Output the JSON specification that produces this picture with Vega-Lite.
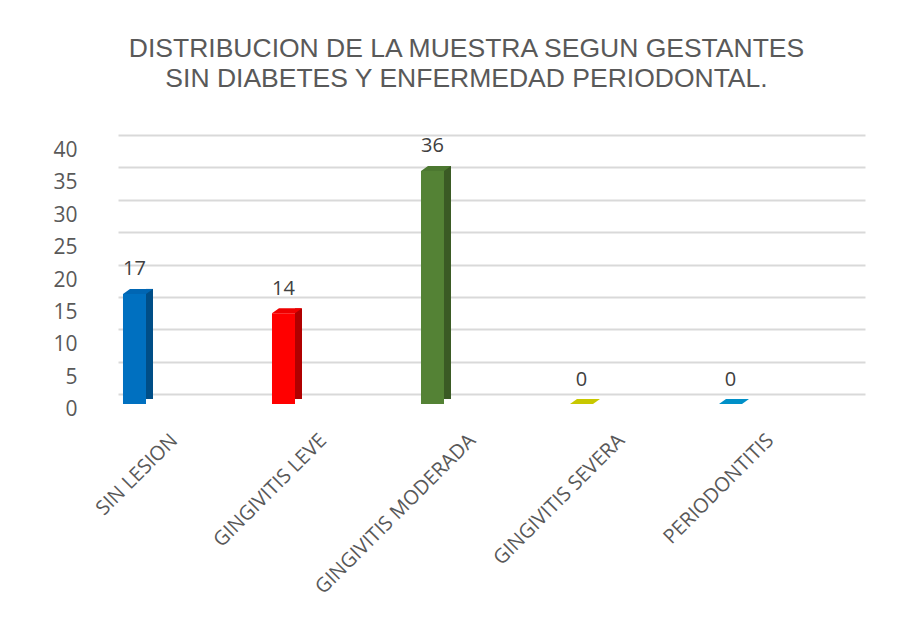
{
  "$schema": "https://vega.github.io/schema/vega-lite/v6.json",
  "width": 747,
  "height": 259,
  "autosize": {"type": "none"},
  "padding": {"left": 118, "top": 135, "right": 48, "bottom": 227},
  "background": "white",
  "config": {"view": {"stroke": null}, "font": "Open Sans"},
  "title": {
    "text": ["DISTRIBUCION DE LA MUESTRA SEGUN GESTANTES", "SIN DIABETES Y ENFERMEDAD PERIODONTAL."],
    "font": "Liberation Sans",
    "fontSize": 26.5,
    "fontWeight": "normal",
    "color": "#595959",
    "anchor": "middle",
    "frame": "group",
    "dx": -25,
    "baseline": "bottom",
    "offset": 16,
    "lineHeight": 30
  },
  "data": {
    "values": [
      {"cat": "SIN LESION", "value": 17},
      {"cat": "GINGIVITIS LEVE", "value": 14},
      {"cat": "GINGIVITIS MODERADA", "value": 36},
      {"cat": "GINGIVITIS SEVERA", "value": 0},
      {"cat": "PERIODONTITIS", "value": 0}
    ]
  },
  "encoding": {
    "x": {
      "field": "cat",
      "type": "nominal",
      "sort": null,
      "scale": {"type": "band", "paddingInner": 0.8456, "paddingOuter": 0.4295, "align": 0.039},
      "axis": {
        "title": null,
        "domain": false,
        "ticks": false,
        "grid": false,
        "labelAngle": -45,
        "labelAlign": "right",
        "labelBaseline": "middle",
        "labelOffset": 40,
        "labelPadding": 43,
        "labelFont": "Open Sans",
        "labelFontSize": 20,
        "labelColor": "#595959",
        "labelLimit": 400
      }
    },
    "y": {
      "field": "value",
      "type": "quantitative",
      "scale": {"domain": [0, 40], "nice": false},
      "axis": {
        "title": null,
        "values": [0, 5, 10, 15, 20, 25, 30, 35, 40],
        "grid": true,
        "gridColor": "#D9D9D9",
        "gridWidth": 2,
        "domain": false,
        "ticks": false,
        "labelPadding": 41,
        "labelOffset": 15.5,
        "labelFont": "Open Sans",
        "labelFontSize": 21,
        "labelColor": "#595959"
      }
    }
  },
  "layer": [
    {
      "mark": {"type": "bar", "yOffset": 10, "y2Offset": 10},
      "encoding": {
        "color": {
          "field": "cat",
          "type": "nominal",
          "scale": {
            "domain": ["SIN LESION", "GINGIVITIS LEVE", "GINGIVITIS MODERADA", "GINGIVITIS SEVERA", "PERIODONTITIS"],
            "range": ["#0070C0", "#FF0000", "#548235", "#C8C800", "#0090C8"]
          },
          "legend": null
        }
      }
    },
    {
      "transform": [{"filter": "datum.value > 0"}],
      "mark": {"type": "bar", "width": 7, "xOffset": 15, "yOffset": 5, "y2Offset": 7.5},
      "encoding": {
        "color": {
          "field": "cat",
          "type": "nominal",
          "scale": {
            "domain": ["SIN LESION", "GINGIVITIS LEVE", "GINGIVITIS MODERADA", "GINGIVITIS SEVERA", "PERIODONTITIS"],
            "range": ["#004E87", "#B00000", "#3A5A24", "#8C8C00", "#006690"]
          },
          "legend": null
        }
      }
    },
    {
      "mark": {
        "type": "point",
        "shape": "M-1,0.1667L0.5333,0.1667L1,-0.1667L-0.5333,-0.1667Z",
        "size": 900,
        "filled": true,
        "opacity": 1,
        "strokeWidth": 0,
        "xOffset": 3.5,
        "yOffset": 7.5
      },
      "encoding": {
        "color": {
          "field": "cat",
          "type": "nominal",
          "scale": {
            "domain": ["SIN LESION", "GINGIVITIS LEVE", "GINGIVITIS MODERADA", "GINGIVITIS SEVERA", "PERIODONTITIS"],
            "range": ["#0066B3", "#EE0000", "#4C7830", "#C8C800", "#0090C8"]
          },
          "legend": null
        }
      }
    },
    {
      "mark": {"type": "text", "yOffset": -14.5, "baseline": "middle", "font": "Open Sans", "fontSize": 20, "color": "#404040"},
      "encoding": {
        "text": {"field": "value", "type": "quantitative"}
      }
    }
  ],
  "resolve": {"scale": {"color": "independent"}}
}
